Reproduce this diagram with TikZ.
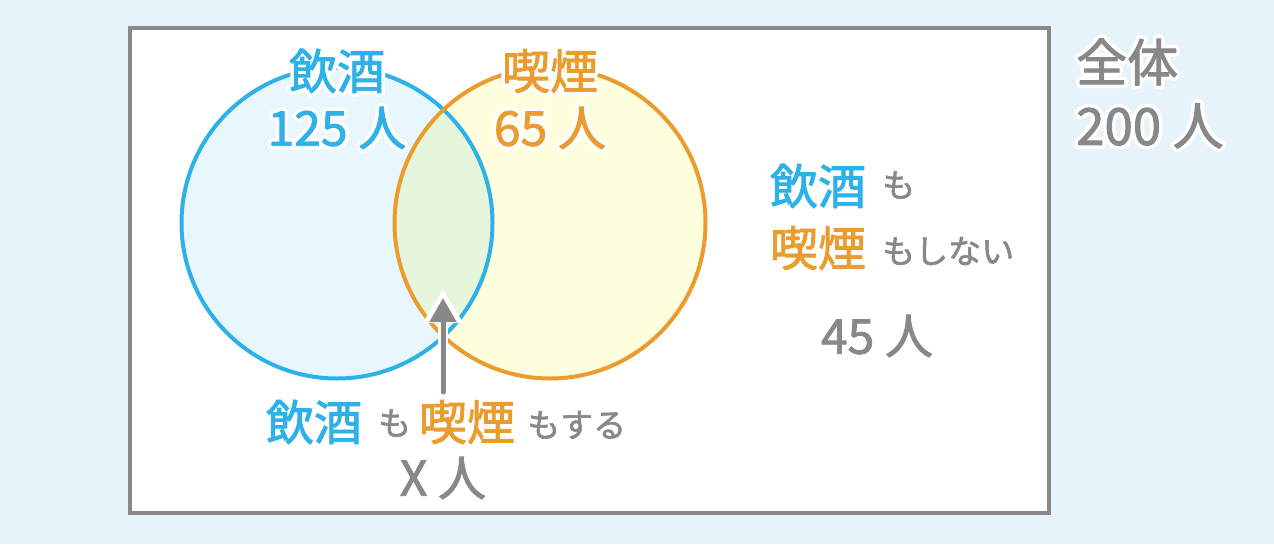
\documentclass[tikz,border=0pt]{standalone}
\usepackage{fontspec}
\setmainfont{Noto Sans CJK JP}[RawFeature={embolden=1.8}]
\newfontfamily\thinface{Noto Sans CJK JP}
\usepackage{xcolor}
\usetikzlibrary{arrows.meta}
\definecolor{bgblue}{RGB}{230,243,251}
\definecolor{drinkblue}{RGB}{45,177,232}
\definecolor{drinkfill}{RGB}{232,247,254}
\definecolor{smokeorange}{RGB}{234,157,46}
\definecolor{smokefill}{RGB}{255,255,221}
\definecolor{bothfill}{RGB}{230,246,220}
\definecolor{txtgray}{RGB}{136,136,136}
\newcommand{\bigtxt}{\fontsize{48}{52}\selectfont}
\newcommand{\hugetxt}{\fontsize{51}{55}\selectfont}
\newcommand{\smtxt}{\fontsize{33}{37}\selectfont}
% white rim round a text: stroked copy below, plain copy on top
\newcommand{\halo}[1]{\rlap{\thinface\color{white}\special{pdf:literal direct 1 j 1 J 8 w 2 Tr}#1\special{pdf:literal direct 0 Tr}}#1}
\tikzset{>=Triangle}

\begin{document}
\begin{tikzpicture}[x=1pt,y=-1pt]
                % D = drinking, S = smoking, U = everyone
                \tikzstyle{every node}=[inner sep=0pt, text=txtgray, font=\bigtxt]
                \tikzstyle{ring}=[line width=4pt]
                \tikzstyle{small}=[anchor=west, font=\smtxt]
                \fill[bgblue] (0,0) rectangle (1274,544);
                \useasboundingbox (0,0) rectangle (1274,544);
                \node[draw=txtgray, fill=white, ring, minimum width=919pt, minimum height=485pt] (U) at (589.5,270.5) {};
                \node[circle, fill=drinkfill, minimum size=311pt] (D) at (337,223) {};
                \node[circle, fill=smokefill, minimum size=311pt] (S) at (550,223) {};
                \begin{scope}
                \clip (D.center) circle (155.5);
                \fill[bothfill] (S.center) circle (155.5);
                \end{scope}
                \draw[drinkblue, ring] (D.center) circle (155.5);
                \draw[smokeorange, ring] (S.center) circle (155.5);
               \node[text=drinkblue] (Dname) at (337,71) {\halo{飲酒}};
               \node[text=drinkblue] (Dnum) [below of = Dname, node distance=57pt] {\halo{125 人}};
               \node[text=smokeorange] (Sname) at (550,71) {\halo{喫煙}};
               \node[text=smokeorange] (Snum) [below of = Sname, node distance=57pt] {\halo{65 人}};
               \node[anchor=west, font=\hugetxt] (Uname) at (1076,62) {\halo{全体}};
               \node[anchor=west, font=\hugetxt] (Unum) at (1076,126) {\halo{200 人}};
               \node[text=drinkblue] (Rd) at (818,186) {飲酒};
               \node[small] (Rdmo) at (882,185) {も};
               \node[text=smokeorange] (Rs) at (818,248) {喫煙};
               \node[small] (Rsno) at (882,251) {もしない};
               \node (Rnum) at (877,336) {45 人};
               \node[text=drinkblue] (Bd) at (314,422) {飲酒};
               \node[small] (Bdmo) at (378,423) {も};
               \node[text=smokeorange] (Bs) at (467,422) {喫煙};
               \node[small] (Bsdo) at (527,425) {もする};
               \node (Bnum) at (443,478) {X 人};
               \coordinate (foot) at (443,392);
               \coordinate (tip) at (443,298);
               \coordinate (halo) at (443,289);
               \draw[white, line width=10pt, -{Triangle[width=38pt,length=34pt]}] (foot) -- (halo);
               \draw[txtgray, line width=5pt, line cap=round, -{Triangle[width=26pt,length=24pt]}] (foot) -- (tip);
        \end{tikzpicture}
\end{document}
